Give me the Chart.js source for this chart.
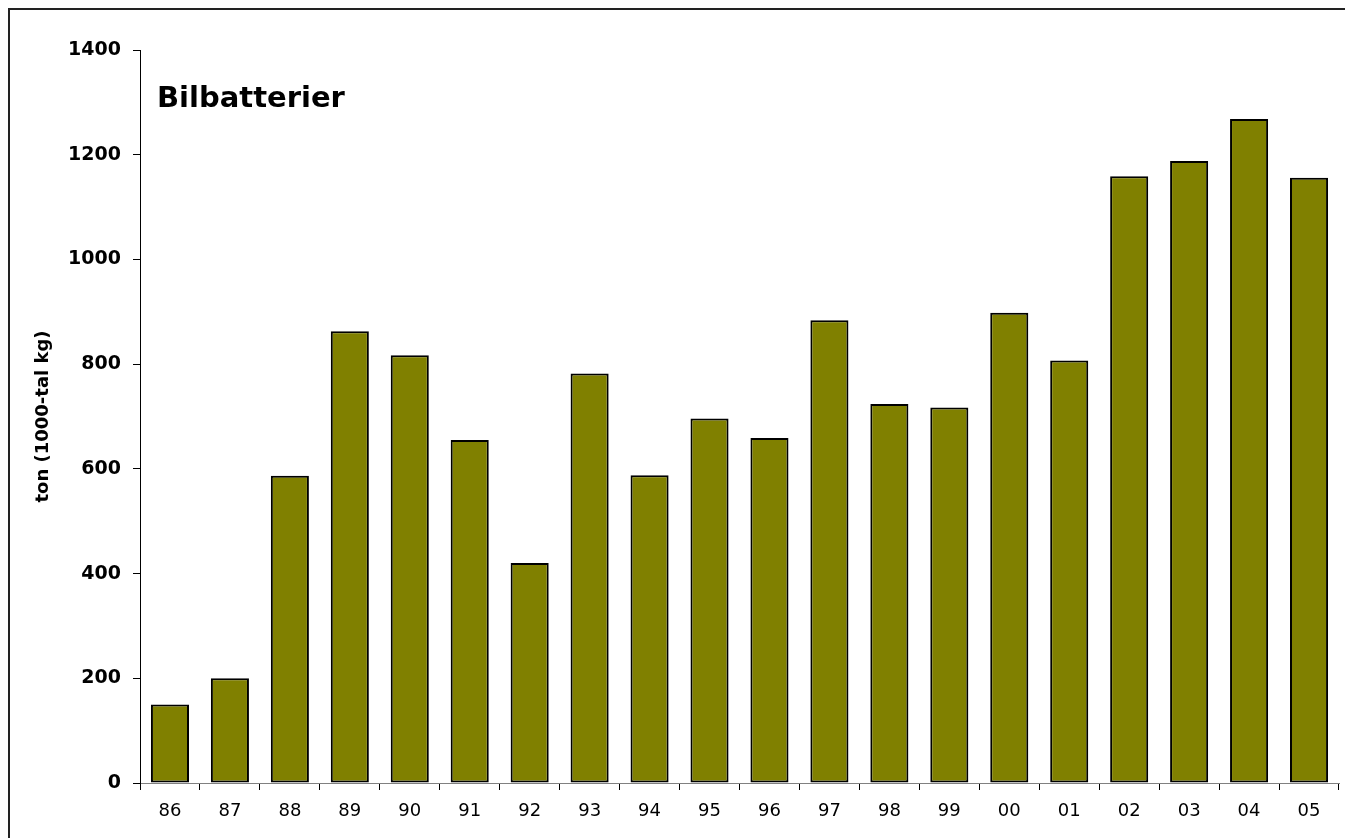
<!DOCTYPE html>
<html>
<head>
<meta charset="utf-8">
<script src="https://cdn.jsdelivr.net/npm/chart.js@4.4.1/dist/chart.umd.min.js"></script>
<style>
  html, body { margin: 0; padding: 0; background: #fff; overflow: hidden; }
  #frame { position: absolute; left: 8px; top: 8px; width: 1400px; height: 900px; border: 2px solid #222; box-sizing: border-box; }
  #c { position: absolute; left: 0; top: 0; }
</style>
</head>
<body>
<div id="frame"></div>
<canvas id="c" width="1345" height="838"></canvas>
<script>
const categories = ["86","87","88","89","90","91","92","93","94","95","96","97","98","99","00","01","02","03","04","05"];
const values = [150, 200, 587, 863, 817, 655, 420, 782, 588, 696, 659, 884, 724, 717, 898, 807, 1159, 1188, 1268, 1156];
const yTicks = [0, 200, 400, 600, 800, 1000, 1200, 1400];
const chartTitle = "Bilbatterier";
const yTitle = "ton (1000-tal kg)";

const FONT = "'DejaVu Sans', Verdana, sans-serif";

const titlePlugin = {
  id: 'innerTitle',
  afterDraw(chart) {
    const ctx = chart.ctx;
    const a = chart.chartArea;
    ctx.save();
    ctx.font = "bold 29px " + FONT;
    ctx.fillStyle = "#000";
    ctx.textBaseline = "middle";
    ctx.textAlign = "left";
    ctx.fillText(chartTitle, a.left + 17, a.top + 49);
    ctx.restore();
  }
};

new Chart(document.getElementById('c'), {
  type: 'bar',
  data: {
    labels: categories,
    datasets: [{
      data: values,
      backgroundColor: '#808000',
      borderColor: '#000',
      borderWidth: 2,
      borderSkipped: false,
      barPercentage: 0.635,
      categoryPercentage: 1.0
    }]
  },
  options: {
    responsive: false,
    animation: false,
    devicePixelRatio: 1,
    layout: { padding: { top: 50, right: 6, left: 0, bottom: 0 } },
    plugins: { legend: { display: false }, tooltip: { enabled: false }, title: { display: false } },
    scales: {
      x: {
        afterFit(scale) { scale.height = 55; },
        grid: { offset: true, drawOnChartArea: false, drawTicks: true, tickLength: 7, color: '#000', tickWidth: 1 },
        border: { color: '#808080', width: 1 },
        ticks: { color: '#000', font: { family: FONT, size: 18 }, padding: 11, maxRotation: 0, autoSkip: false }
      },
      y: {
        min: 0, max: 1400,
        afterFit(scale) { scale.width = 140; },
        afterBuildTicks(scale) { scale.ticks = yTicks.map(v => ({ value: v })); },
        grid: { drawOnChartArea: false, drawTicks: true, tickLength: 7, color: '#000' },
        border: { color: '#000', width: 1 },
        ticks: { color: '#000', font: { family: FONT, size: 19, weight: 'bold' }, padding: 12,
                 callback: (v) => String(v) },
        title: { display: true, text: yTitle, color: '#000', font: { family: FONT, size: 18, weight: 'bold' }, padding: { top: 33, bottom: 0 } }
      }
    }
  },
  plugins: [titlePlugin]
});
</script>
</body>
</html>
